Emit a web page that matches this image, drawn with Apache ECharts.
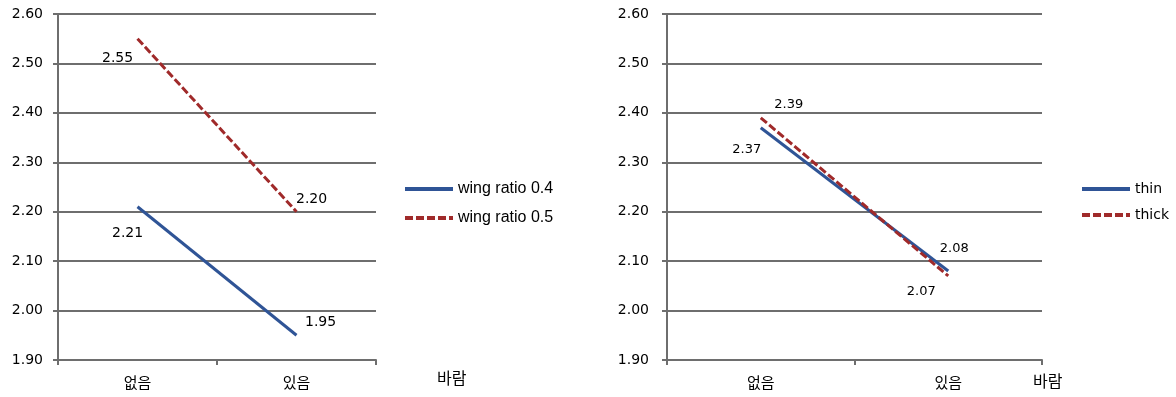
<!DOCTYPE html>
<html lang="ko">
<head>
    <meta charset="UTF-8">
    <title>바람 - wing ratio / thickness</title>
    <style>
        html, body { margin: 0; padding: 0; background: #fff; }
        #box { width: 1176px; height: 397px; }
    </style>
</head>
<body>
    <div id="box"></div>
    <script src="https://cdn.jsdelivr.net/npm/echarts@6/dist/echarts.min.js"></script>
    <script>
        // data
        var windCats = ['없음', '있음'];
        var yTicks = [1.9, 2.6, 0.1];   // min, max, interval
        var ratio04 = [2.21, 1.95];
        var ratio05 = [2.55, 2.20];
        var thin = [2.37, 2.08];
        var thick = [2.39, 2.07];

        var blue = '#2f5496';
        var red = '#a02a2a';
        var gridGray = '#6e6e6e';
        var font = 'DejaVu Sans';

        function xAxis(idx, nameGap, namePad) {
            return {
                type: 'category',
                gridIndex: idx,
                data: windCats,
                boundaryGap: true,
                axisLine: { lineStyle: { color: gridGray, width: 2 } },
                axisTick: { show: true, length: 5, lineStyle: { color: gridGray, width: 2 } },
                axisLabel: { color: '#000', fontSize: 15, margin: 15, fontFamily: 'Noto Sans CJK KR' },
                name: '바람',
                nameLocation: 'end',
                nameGap: nameGap,
                nameTextStyle: {
                    color: '#000', fontSize: 16, fontFamily: 'Noto Sans CJK KR',
                    align: 'left', verticalAlign: 'top', padding: [namePad, 0, 0, 0]
                }
            };
        }

        function yAxis(idx, margin) {
            return {
                type: 'value',
                gridIndex: idx,
                min: yTicks[0],
                max: yTicks[1],
                interval: yTicks[2],
                axisLine: { show: true, lineStyle: { color: gridGray, width: 2 } },
                axisTick: { show: true, length: 5, lineStyle: { color: gridGray, width: 2 } },
                splitLine: { lineStyle: { color: gridGray, width: 2 } },
                axisLabel: {
                    color: '#000', fontSize: 14, margin: margin, fontFamily: font,
                    formatter: function (v) { return v.toFixed(2); }
                }
            };
        }

        // label offsets per point (text top-left relative to the point)
        function lineSeries(name, values, idx, color, dashed, pos, fs) {
            return {
                name: name,
                type: 'line',
                xAxisIndex: idx,
                yAxisIndex: idx,
                data: values.map(function (v, i) {
                    return { value: v, label: { position: pos[i] } };
                }),
                symbol: 'circle',
                symbolSize: 1,
                lineStyle: { color: color, width: 3, type: dashed ? [8, 3] : 'solid' },
                itemStyle: { color: 'rgba(0,0,0,0)' },
                label: {
                    show: true,
                    color: '#000',
                    fontSize: fs,
                    fontFamily: font,
                    formatter: function (p) { return p.value.toFixed(2); }
                },
                emphasis: { disabled: true }
            };
        }

        var box = echarts.init(document.getElementById('box'));

        var legendBase = {
            orient: 'vertical', padding: 0,
            itemWidth: 48, itemHeight: 14,
            itemStyle: { opacity: 0 },
            lineStyle: { width: 4 }
        };

        var option = {
            animation: false,
            backgroundColor: '#fff',
            grid: [
                { left: 58, top: 14, width: 318, height: 346 },
                { left: 667, top: 14, width: 375, height: 346 }
            ],
            xAxis: [xAxis(0, 61, 10), xAxis(1, -9, 13)],
            yAxis: [yAxis(0, 15), yAxis(1, 18)],
            legend: [
                Object.assign({}, legendBase, {
                    left: 403, top: 181, itemGap: 13,
                    textStyle: { color: '#000', fontSize: 16, fontFamily: 'Liberation Sans' },
                    data: ['wing ratio 0.4', 'wing ratio 0.5']
                }),
                Object.assign({}, legendBase, {
                    left: 1080, top: 182, itemGap: 12,
                    textStyle: { color: '#000', fontSize: 14, fontFamily: font },
                    data: ['thin', 'thick']
                })
            ],
            series: [
                lineSeries('wing ratio 0.4', ratio04, 0, blue, false, [[-25, 20], [9, -19]], 14),
                lineSeries('wing ratio 0.5', ratio05, 0, red, true, [[-35, 13], [0, -19]], 14),
                lineSeries('thin', thin, 1, blue, false, [[-28, 16], [-8, -28]], 13),
                lineSeries('thick', thick, 1, red, true, [[14, -19], [-41, 10]], 13)
            ]
        };
        box.setOption(option);
    </script>
</body>
</html>
